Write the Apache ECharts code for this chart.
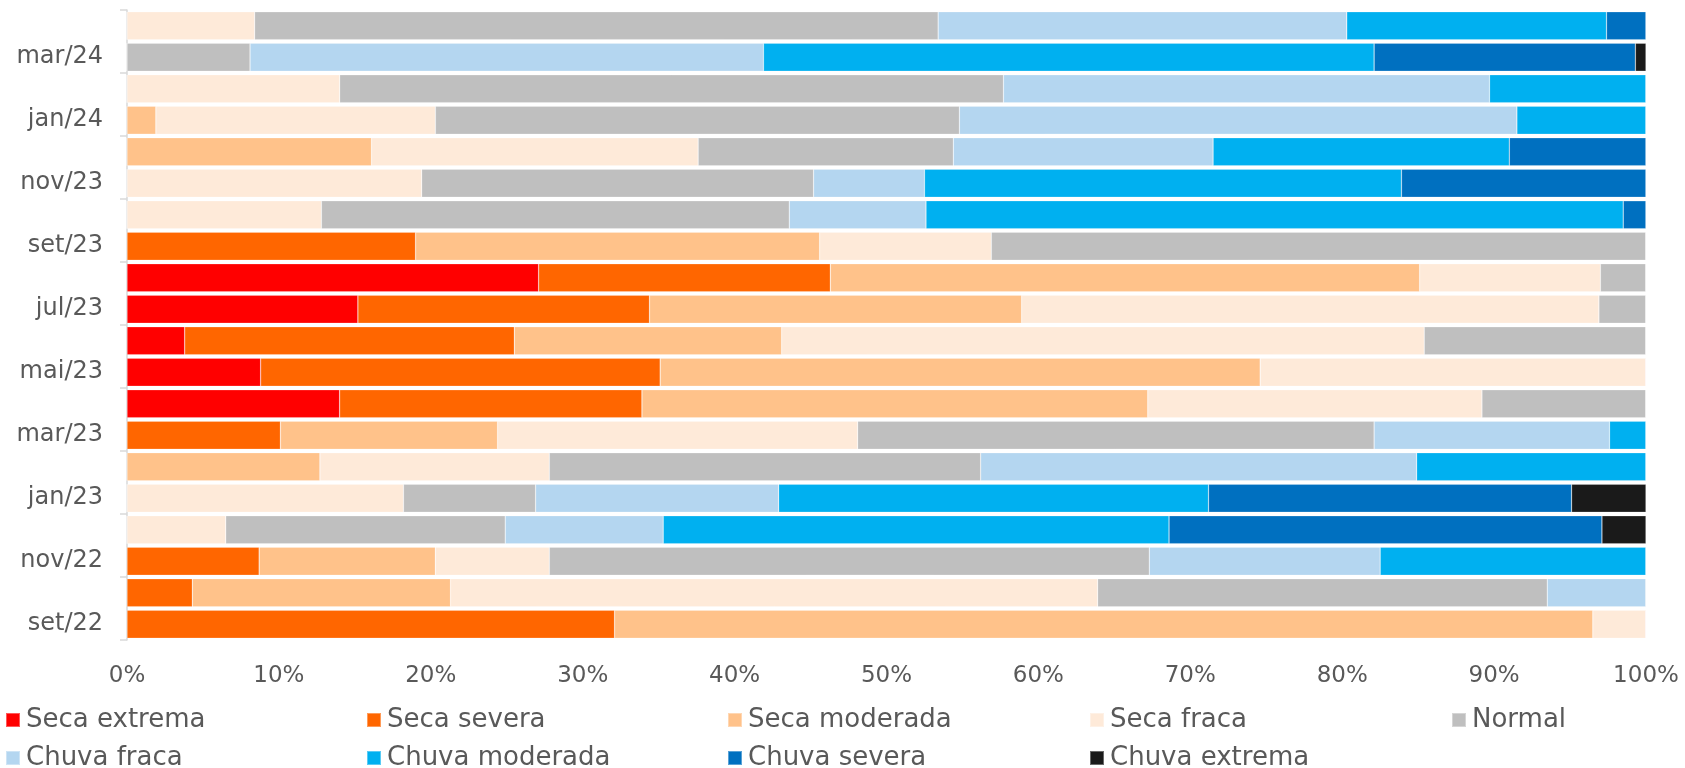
<!DOCTYPE html>
<html>
<head>
<meta charset="utf-8">
<script src="https://cdn.jsdelivr.net/npm/echarts@6/dist/echarts.min.js"></script>
<style>html,body{margin:0;padding:0;background:#fff}#c{width:1685px;height:768px}</style>
</head>
<body>
<div id="c"></div>
<script>
const categories = ['set/22','out/22','nov/22','dez/22','jan/23','fev/23','mar/23','abr/23','mai/23','jun/23','jul/23','ago/23','set/23','out/23','nov/23','dez/23','jan/24','fev/24','mar/24','abr/24'];
const seriesNames = ['Seca extrema','Seca severa','Seca moderada','Seca fraca','Normal','Chuva fraca','Chuva moderada','Chuva severa','Chuva extrema'];
//                     set22 out22 nov22 dez22 jan23 fev23 mar23 abr23 mai23 jun23 jul23 ago23 set23 out23 nov23 dez23 jan24 fev24 mar24 abr24
const secaExtrema   = [0,    0,    0,    0,    0,    0,    0,    14.0, 8.8,  3.8,  15.2, 27.1, 0,    0,    0,    0,    0,    0,    0,    0];
const secaSevera    = [32.1, 4.3,  8.7,  0,    0,    0,    10.1, 19.9, 26.3, 21.7, 19.2, 19.2, 19.0, 0,    0,    0,    0,    0,    0,    0];
const secaModerada  = [64.4, 17.0, 11.6, 0,    0,    12.7, 14.3, 33.3, 39.5, 17.6, 24.5, 38.8, 26.6, 0,    0,    16.1, 1.9,  0,    0,    0];
const secaFraca     = [3.5,  42.6, 7.5,  6.5,  18.2, 15.1, 23.7, 22.0, 25.4, 42.3, 38.0, 11.9, 11.3, 12.8, 19.4, 21.5, 18.4, 14.0, 0,    8.4];
const normal        = [0,    29.6, 39.5, 18.4, 8.7,  28.4, 34.0, 10.8, 0,    14.6, 3.1,  3.0,  43.1, 30.8, 25.8, 16.8, 34.5, 43.7, 8.1,  45.0];
const chuvaFraca    = [0,    6.5,  15.2, 10.4, 16.0, 28.7, 15.5, 0,    0,    0,    0,    0,    0,    9.0,  7.3,  17.1, 36.7, 32.0, 33.8, 26.9];
const chuvaModerada = [0,    0,    17.5, 33.3, 28.3, 15.1, 2.4,  0,    0,    0,    0,    0,    0,    45.9, 31.4, 19.5, 8.5,  10.3, 40.2, 17.1];
const chuvaSevera   = [0,    0,    0,    28.5, 23.9, 0,    0,    0,    0,    0,    0,    0,    0,    1.5,  16.1, 9.0,  0,    0,    17.2, 2.6];
const chuvaExtrema  = [0,    0,    0,    2.9,  4.9,  0,    0,    0,    0,    0,    0,    0,    0,    0,    0,    0,    0,    0,    0.7,  0];
const xTicks = [0,10,20,30,40,50,60,70,80,90,100];

const values = [secaExtrema, secaSevera, secaModerada, secaFraca, normal, chuvaFraca, chuvaModerada, chuvaSevera, chuvaExtrema];
const colors = ['#FF0000','#FF6600','#FFC28A','#FEEAD9','#BFBFBF','#B4D6F0','#00B0F0','#0070C0','#1A1A1A'];
const font = 'DejaVu Sans';
const textColor = '#595959';

const legendPos = [[5,707],[366,707],[727,707],[1089,707],[1451,707],[5,745],[366,745],[727,745],[1089,745]];
const legends = seriesNames.map((n,i)=>({
  show:true, data:[n], left:legendPos[i][0], top:legendPos[i][1],
  icon:'rect', itemWidth:14, itemHeight:14, itemGap:0, padding:0,
  textStyle:{fontFamily:font, fontSize:26, color:textColor, padding:[0,0,0,1]}
}));

const chart = echarts.init(document.getElementById('c'), null, {renderer:'canvas'});
chart.setOption({
  backgroundColor:'#fff',
  animation:false,
  legend: legends,
  grid:{left:127, right:39, top:10, bottom:128, containLabel:false},
  xAxis:{
    type:'value', min:0, max:100, interval:10,
    axisLine:{show:false}, axisTick:{show:false}, splitLine:{show:false},
    axisLabel:{margin:25, fontFamily:font, fontSize:23, color:textColor, formatter:v=> xTicks.includes(v)? v+'%':''}
  },
  yAxis:{
    type:'category', data:categories,
    axisLine:{show:true, lineStyle:{color:'#D9D9D9', width:1.5}},
    axisTick:{show:true, interval:1, length:7, lineStyle:{color:'#D9D9D9', width:1.5}},
    axisLabel:{interval:1, margin:24, fontFamily:font, fontSize:24, color:textColor}
  },
  series: seriesNames.map((n,i)=>({
    name:n, type:'bar', stack:'total', data:values[i],
    barCategoryGap:'11%',
    itemStyle:{color:colors[i], borderColor:'rgba(255,255,255,0.35)', borderWidth:0.6}
  }))
});
</script>
</body>
</html>
